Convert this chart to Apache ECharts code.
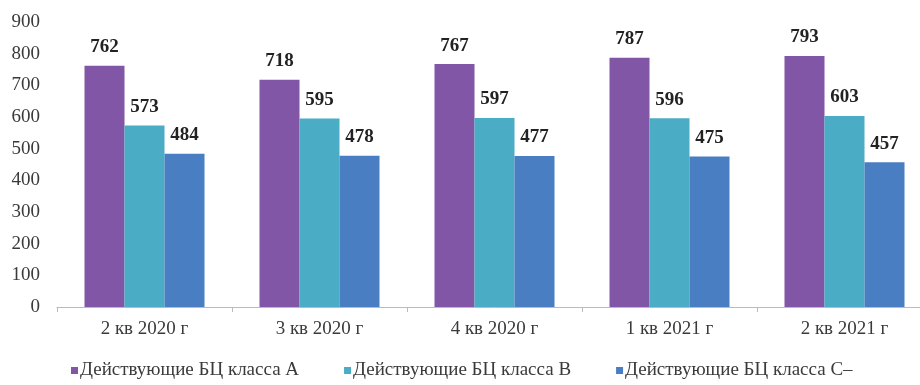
<!DOCTYPE html>
<html>
<head>
<meta charset="utf-8">
<script src="https://cdn.jsdelivr.net/npm/echarts@6/dist/echarts.min.js"></script>
<style>
  html, body { margin: 0; padding: 0; background: #fff; overflow: hidden; }
  /* the last category runs slightly past the right edge of the window */
  #chart { width: 932px; height: 385px; }
</style>
</head>
<body>
<div id="chart"></div>
<script>
// Quarters shown on the category axis
const categories = ['2 кв 2020 г', '3 кв 2020 г', '4 кв 2020 г', '1 кв 2021 г', '2 кв 2021 г'];

// Operating business centres by class
const classA = [762, 718, 767, 787, 793];
const classB = [573, 595, 597, 596, 603];
const classC = [484, 478, 477, 475, 457];

const seriesNames = ['Действующие БЦ класса А', 'Действующие БЦ класса В', 'Действующие БЦ класса С–'];
const colors = ['#8156a6', '#4aacc5', '#4a7ec2'];

const serif = '"Liberation Serif", "DejaVu Serif", serif';

const chart = echarts.init(document.getElementById('chart'));

const makeSeries = (name, data, color) => ({
  name,
  type: 'bar',
  data,
  barWidth: 40,
  barGap: '0%',
  itemStyle: { color },
  label: {
    show: true,
    position: 'top',
    distance: 9,
    fontFamily: serif,
    fontWeight: 'bold',
    fontSize: 19,
    color: '#222'
  }
});

chart.setOption({
  animation: false,
  color: colors,
  grid: { left: 57, top: 22, right: 0, height: 285 },
  legend: {
    bottom: 0,
    left: 66,
    itemWidth: 7,
    itemHeight: 7,
    itemGap: 45,
    icon: 'rect',
    textStyle: { fontFamily: serif, fontSize: 19, color: '#3a3a3a', padding: [0, 0, 0, -3] },
    data: seriesNames
  },
  xAxis: {
    type: 'category',
    data: categories,
    axisLine: { lineStyle: { color: '#bbb' } },
    axisTick: { show: true, lineStyle: { color: '#bbb' } },
    axisLabel: { fontFamily: serif, fontSize: 19, color: '#3a3a3a', margin: 13 }
  },
  yAxis: {
    type: 'value',
    min: 0,
    max: 900,
    interval: 100,
    splitLine: { show: false },
    axisLine: { show: false },
    axisTick: { show: false },
    axisLabel: { fontFamily: serif, fontSize: 19, color: '#3a3a3a', margin: 17 }
  },
  series: [
    makeSeries(seriesNames[0], classA, colors[0]),
    makeSeries(seriesNames[1], classB, colors[1]),
    makeSeries(seriesNames[2], classC, colors[2])
  ]
});
</script>
</body>
</html>
